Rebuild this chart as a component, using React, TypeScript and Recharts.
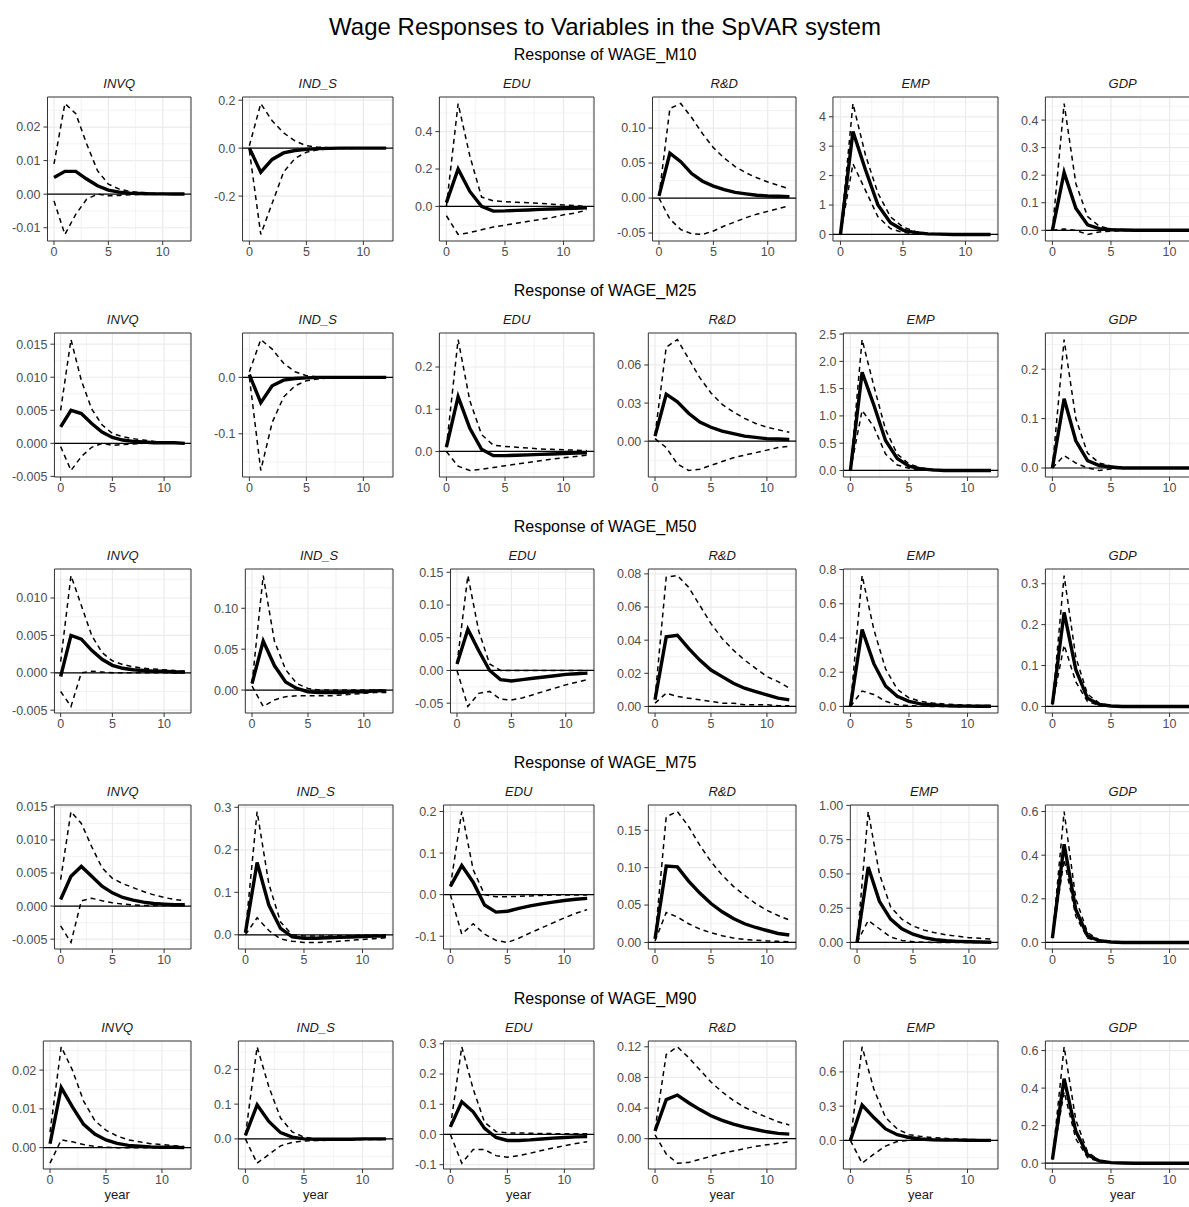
import React from "react";
import { LineChart, Line, XAxis, YAxis, CartesianGrid, ReferenceLine, ReferenceArea } from "recharts";

const YEARS = [0, 1, 2, 3, 4, 5, 6, 7, 8, 9, 10, 11, 12];
const VARIABLES = ["INVQ", "IND_S", "EDU", "R&D", "EMP", "GDP"];
const RESPONSES = ["WAGE_M10", "WAGE_M25", "WAGE_M50", "WAGE_M75", "WAGE_M90"];

type Panel = { irf: number[]; lo: number[]; hi: number[]; ticks: string[] };

// ---- WAGE_M10 ----
const M10_INVQ: Panel = {
  irf: [0.005, 0.0068, 0.0068, 0.0045, 0.0025, 0.0012, 0.0006, 0.0003, 0.0002, 0.0001, 0.0001, 0.00005, 0.00003],
  hi: [0.009, 0.027, 0.024, 0.015, 0.007, 0.003, 0.0015, 0.0008, 0.0005, 0.0003, 0.0002, 0.0001, 0.0001],
  lo: [-0.002, -0.012, -0.006, -0.0015, 0, -0.0005, -0.0004, -0.0002, -0.0001, 0, 0, 0, 0],
  ticks: ["-0.01", "0.00", "0.01", "0.02"],
};
const M10_IND_S: Panel = {
  irf: [0, -0.1, -0.047, -0.02, -0.01, -0.005, -0.002, -0.001, 0, 0, 0, 0, 0],
  hi: [0.01, 0.186, 0.114, 0.064, 0.03, 0.01, 0.004, 0.002, 0.001, 0.001, 0.0005, 0, 0],
  lo: [-0.01, -0.36, -0.23, -0.1, -0.043, -0.017, -0.007, -0.003, -0.001, -0.001, 0, 0, 0],
  ticks: ["-0.2", "0.0", "0.2"],
};
const M10_EDU: Panel = {
  irf: [0.02, 0.2, 0.08, 0, -0.025, -0.024, -0.021, -0.019, -0.016, -0.014, -0.012, -0.01, -0.008],
  hi: [0, 0.55, 0.27, 0.05, 0.03, 0.025, 0.022, 0.02, 0.016, 0.012, 0.008, 0.004, 0],
  lo: [-0.05, -0.15, -0.14, -0.125, -0.11, -0.1, -0.09, -0.08, -0.07, -0.06, -0.045, -0.035, -0.02],
  ticks: ["0.0", "0.2", "0.4"],
};
const M10_RD: Panel = {
  irf: [0.003, 0.064, 0.052, 0.035, 0.024, 0.017, 0.012, 0.008, 0.006, 0.004, 0.003, 0.0025, 0.002],
  hi: [0.003, 0.128, 0.135, 0.115, 0.092, 0.072, 0.057, 0.045, 0.036, 0.029, 0.023, 0.018, 0.013],
  lo: [0, -0.03, -0.045, -0.051, -0.052, -0.047, -0.04, -0.034, -0.028, -0.023, -0.019, -0.015, -0.011],
  ticks: ["-0.05", "0.00", "0.05", "0.10"],
};
const M10_EMP: Panel = {
  irf: [0, 3.5, 2.2, 1.0, 0.4, 0.15, 0.06, 0.02, 0.01, 0, 0, 0, 0],
  hi: [0, 4.45, 2.7, 1.4, 0.6, 0.25, 0.1, 0.04, 0.02, 0.01, 0, 0, 0],
  lo: [0, 2.4, 1.5, 0.6, 0.2, 0.07, 0.02, 0.01, 0, 0, 0, 0, 0],
  ticks: ["0", "1", "2", "3", "4"],
};
const M10_GDP: Panel = {
  irf: [0, 0.21, 0.08, 0.02, 0.006, 0.002, 0.001, 0, 0, 0, 0, 0, 0],
  hi: [0, 0.46, 0.17, 0.05, 0.015, 0.005, 0.002, 0.001, 0, 0, 0, 0, 0],
  lo: [0, 0.005, 0, -0.015, -0.006, -0.003, -0.001, 0, 0, 0, 0, 0, 0],
  ticks: ["0.0", "0.1", "0.2", "0.3", "0.4"],
};

// ---- WAGE_M25 ----
const M25_INVQ: Panel = {
  irf: [0.0025, 0.005, 0.0045, 0.003, 0.0017, 0.0009, 0.0005, 0.0003, 0.0002, 0.0001, 0.0001, 0.0001, 0],
  hi: [0.005, 0.0157, 0.0095, 0.0052, 0.0028, 0.0015, 0.001, 0.0007, 0.0005, 0.0003, 0.0002, 0.0001, 0.0001],
  lo: [-0.0005, -0.0041, -0.002, -0.0006, 0, -0.0003, -0.0002, -0.0001, 0, 0, 0, 0, 0],
  ticks: ["-0.005", "0.000", "0.005", "0.010", "0.015"],
};
const M25_IND_S: Panel = {
  irf: [0.005, -0.045, -0.015, -0.005, -0.002, -0.001, 0, 0, 0, 0, 0, 0, 0],
  hi: [0.01, 0.067, 0.05, 0.025, 0.01, 0.003, 0.001, 0, 0, 0, 0, 0, 0],
  lo: [0, -0.165, -0.08, -0.035, -0.015, -0.006, -0.003, -0.001, 0, 0, 0, 0, 0],
  ticks: ["-0.1", "0.0"],
};
const M25_EDU: Panel = {
  irf: [0.01, 0.13, 0.055, 0.005, -0.01, -0.01, -0.009, -0.008, -0.007, -0.006, -0.005, -0.004, -0.003],
  hi: [0.01, 0.265, 0.12, 0.04, 0.015, 0.012, 0.01, 0.008, 0.006, 0.005, 0.004, 0.003, 0.002],
  lo: [0, -0.035, -0.045, -0.042, -0.038, -0.034, -0.03, -0.026, -0.022, -0.018, -0.015, -0.012, -0.009],
  ticks: ["0.0", "0.1", "0.2"],
};
const M25_RD: Panel = {
  irf: [0.004, 0.037, 0.031, 0.022, 0.015, 0.011, 0.008, 0.006, 0.004, 0.003, 0.002, 0.0017, 0.0013],
  hi: [0.005, 0.074, 0.08, 0.065, 0.05, 0.038, 0.029, 0.023, 0.018, 0.014, 0.011, 0.009, 0.007],
  lo: [0.002, -0.005, -0.018, -0.023, -0.022, -0.019, -0.016, -0.013, -0.011, -0.009, -0.007, -0.005, -0.004],
  ticks: ["0.00", "0.03", "0.06"],
};
const M25_EMP: Panel = {
  irf: [0, 1.8, 1.2, 0.55, 0.22, 0.08, 0.03, 0.01, 0, 0, 0, 0, 0],
  hi: [0, 2.4, 1.55, 0.75, 0.3, 0.12, 0.05, 0.02, 0.01, 0, 0, 0, 0],
  lo: [0, 1.1, 0.8, 0.3, 0.1, 0.04, 0.01, 0, 0, 0, 0, 0, 0],
  ticks: ["0.0", "0.5", "1.0", "1.5", "2.0", "2.5"],
};
const M25_GDP: Panel = {
  irf: [0, 0.14, 0.055, 0.015, 0.005, 0.002, 0, 0, 0, 0, 0, 0, 0],
  hi: [0, 0.26, 0.1, 0.03, 0.01, 0.004, 0.001, 0, 0, 0, 0, 0, 0],
  lo: [0, 0.025, 0.01, 0, -0.005, -0.002, 0, 0, 0, 0, 0, 0, 0],
  ticks: ["0.0", "0.1", "0.2"],
};

// ---- WAGE_M50 ----
const M50_INVQ: Panel = {
  irf: [-0.0005, 0.005, 0.0045, 0.003, 0.0018, 0.001, 0.0006, 0.0004, 0.0003, 0.0002, 0.0002, 0.0001, 0.0001],
  hi: [0.0015, 0.013, 0.009, 0.005, 0.0027, 0.0016, 0.0011, 0.0008, 0.0006, 0.0005, 0.0004, 0.0003, 0.0002],
  lo: [-0.0025, -0.0045, 0, 0.0002, 0.0001, 0, 0, 0, 0, 0, 0, 0, 0],
  ticks: ["-0.005", "0.000", "0.005", "0.010"],
};
const M50_IND_S: Panel = {
  irf: [0.008, 0.06, 0.03, 0.01, 0.002, -0.002, -0.003, -0.003, -0.003, -0.002, -0.002, -0.001, -0.001],
  hi: [0.008, 0.14, 0.06, 0.025, 0.008, 0.002, 0, 0, 0, 0, 0, 0, 0],
  lo: [0.005, -0.02, -0.012, -0.008, -0.007, -0.007, -0.007, -0.007, -0.006, -0.005, -0.004, -0.003, -0.003],
  ticks: ["0.00", "0.05", "0.10"],
};
const M50_EDU: Panel = {
  irf: [0.01, 0.063, 0.03, 0, -0.014, -0.016, -0.014, -0.012, -0.01, -0.008, -0.006, -0.005, -0.004],
  hi: [0.01, 0.145, 0.06, 0.01, 0, 0, 0, 0, 0, 0, 0, 0, 0],
  lo: [0, -0.055, -0.035, -0.032, -0.044, -0.045, -0.042, -0.037, -0.032, -0.027, -0.022, -0.018, -0.014],
  ticks: ["-0.05", "0.00", "0.05", "0.10", "0.15"],
};
const M50_RD: Panel = {
  irf: [0.004, 0.042, 0.043, 0.035, 0.028, 0.022, 0.018, 0.014, 0.011, 0.009, 0.007, 0.005, 0.004],
  hi: [0.005, 0.078, 0.079, 0.072, 0.061, 0.05, 0.041, 0.034, 0.028, 0.023, 0.018, 0.015, 0.011],
  lo: [0.002, 0.008, 0.006, 0.005, 0.004, 0.003, 0.002, 0.002, 0.001, 0.001, 0.001, 0.0005, 0.0005],
  ticks: ["0.00", "0.02", "0.04", "0.06", "0.08"],
};
const M50_EMP: Panel = {
  irf: [0, 0.45, 0.25, 0.12, 0.06, 0.03, 0.015, 0.01, 0.005, 0.003, 0.002, 0.001, 0.001],
  hi: [0, 0.765, 0.45, 0.22, 0.1, 0.05, 0.03, 0.02, 0.015, 0.01, 0.008, 0.006, 0.005],
  lo: [0, 0.09, 0.07, 0.03, 0.01, 0.005, 0.002, 0, 0, 0, 0, 0, 0],
  ticks: ["0.0", "0.2", "0.4", "0.6", "0.8"],
};
const M50_GDP: Panel = {
  irf: [0.005, 0.23, 0.09, 0.02, 0.005, 0.001, 0, 0, 0, 0, 0, 0, 0],
  hi: [0.005, 0.32, 0.12, 0.03, 0.008, 0.002, 0, 0, 0, 0, 0, 0, 0],
  lo: [0.005, 0.15, 0.06, 0.012, 0.003, 0.001, 0, 0, 0, 0, 0, 0, 0],
  ticks: ["0.0", "0.1", "0.2", "0.3"],
};

// ---- WAGE_M75 ----
const M75_INVQ: Panel = {
  irf: [0.001, 0.0045, 0.006, 0.0045, 0.003, 0.002, 0.0013, 0.0009, 0.0006, 0.0004, 0.0003, 0.0002, 0.0002],
  hi: [0.004, 0.0143, 0.0125, 0.009, 0.0058, 0.0042, 0.0034, 0.0028, 0.0022, 0.0017, 0.0013, 0.001, 0.0008],
  lo: [-0.003, -0.0055, 0.0008, 0.0012, 0.0008, 0.0005, 0.0003, 0.0002, 0.0001, 0.0001, 0.0001, 0.0001, 0.0001],
  ticks: ["-0.005", "0.000", "0.005", "0.010", "0.015"],
};
const M75_IND_S: Panel = {
  irf: [0.005, 0.17, 0.07, 0.015, -0.005, -0.008, -0.008, -0.007, -0.006, -0.005, -0.004, -0.003, -0.003],
  hi: [0.005, 0.29, 0.12, 0.03, 0, -0.003, -0.003, -0.003, -0.002, -0.002, -0.001, -0.001, 0],
  lo: [0, 0.04, 0.01, -0.01, -0.015, -0.018, -0.018, -0.017, -0.015, -0.013, -0.011, -0.009, -0.007],
  ticks: ["0.0", "0.1", "0.2", "0.3"],
};
const M75_EDU: Panel = {
  irf: [0.02, 0.07, 0.03, -0.025, -0.042, -0.04, -0.033, -0.027, -0.022, -0.018, -0.014, -0.011, -0.009],
  hi: [0.02, 0.2, 0.06, 0, -0.005, -0.005, -0.004, -0.003, -0.002, -0.001, -0.001, -0.001, -0.001],
  lo: [0, -0.095, -0.07, -0.095, -0.11, -0.115, -0.105, -0.092, -0.08, -0.068, -0.056, -0.045, -0.036],
  ticks: ["-0.1", "0.0", "0.1", "0.2"],
};
const M75_RD: Panel = {
  irf: [0.005, 0.102, 0.101, 0.082, 0.066, 0.052, 0.041, 0.032, 0.025, 0.02, 0.016, 0.012, 0.01],
  hi: [0.005, 0.168, 0.175, 0.155, 0.13, 0.108, 0.09, 0.075, 0.063, 0.052, 0.043, 0.036, 0.03],
  lo: [0.002, 0.04, 0.034, 0.025, 0.018, 0.013, 0.009, 0.006, 0.004, 0.003, 0.002, 0.0015, 0.001],
  ticks: ["0.00", "0.05", "0.10", "0.15"],
};
const M75_EMP: Panel = {
  irf: [0, 0.55, 0.3, 0.17, 0.1, 0.06, 0.035, 0.02, 0.012, 0.008, 0.005, 0.003, 0.002],
  hi: [0, 0.955, 0.5, 0.26, 0.17, 0.12, 0.09, 0.07, 0.055, 0.045, 0.035, 0.03, 0.025],
  lo: [0, 0.16, 0.1, 0.04, 0.015, 0.006, 0.002, 0, 0, 0, 0, 0, 0],
  ticks: ["0.00", "0.25", "0.50", "0.75", "1.00"],
};
const M75_GDP: Panel = {
  irf: [0.02, 0.45, 0.15, 0.03, 0.008, 0.002, 0, 0, 0, 0, 0, 0, 0],
  hi: [0.02, 0.6, 0.2, 0.045, 0.012, 0.003, 0.001, 0, 0, 0, 0, 0, 0],
  lo: [0.02, 0.38, 0.12, 0.02, 0.005, 0.001, 0, 0, 0, 0, 0, 0, 0],
  ticks: ["0.0", "0.2", "0.4", "0.6"],
};

// ---- WAGE_M90 ----
const M90_INVQ: Panel = {
  irf: [0.001, 0.0155, 0.0105, 0.006, 0.0035, 0.002, 0.0011, 0.0006, 0.0004, 0.0002, 0.0001, 0.0001, 0],
  hi: [0.004, 0.026, 0.02, 0.012, 0.007, 0.0045, 0.003, 0.002, 0.0015, 0.001, 0.0008, 0.0005, 0.0003],
  lo: [-0.004, 0.002, 0.0015, 0.0008, 0.0003, 0.0001, 0, 0, 0, 0, 0, 0, 0],
  ticks: ["0.00", "0.01", "0.02"],
};
const M90_IND_S: Panel = {
  irf: [0.01, 0.098, 0.05, 0.018, 0.005, 0, -0.001, -0.001, -0.001, -0.001, 0, 0, 0],
  hi: [0.01, 0.265, 0.15, 0.06, 0.02, 0.005, 0, 0, 0, 0, 0, 0, 0],
  lo: [0, -0.07, -0.045, -0.02, -0.01, -0.006, -0.005, -0.004, -0.003, -0.003, -0.002, -0.002, -0.002],
  ticks: ["0.0", "0.1", "0.2"],
};
const M90_EDU: Panel = {
  irf: [0.025, 0.108, 0.075, 0.02, -0.01, -0.02, -0.02, -0.018, -0.015, -0.012, -0.01, -0.008, -0.007],
  hi: [0.025, 0.29, 0.15, 0.04, 0.01, 0.005, 0.005, 0.004, 0.003, 0.003, 0.002, 0.002, 0.002],
  lo: [0, -0.095, -0.05, -0.05, -0.07, -0.075, -0.07, -0.062, -0.053, -0.045, -0.037, -0.03, -0.024],
  ticks: ["-0.1", "0.0", "0.1", "0.2", "0.3"],
};
const M90_RD: Panel = {
  irf: [0.01, 0.051, 0.057, 0.047, 0.038, 0.03, 0.024, 0.019, 0.015, 0.012, 0.009, 0.007, 0.006],
  hi: [0.012, 0.11, 0.12, 0.106, 0.09, 0.074, 0.061, 0.05, 0.041, 0.034, 0.028, 0.022, 0.018],
  lo: [0.005, -0.02, -0.032, -0.031, -0.027, -0.023, -0.019, -0.016, -0.013, -0.01, -0.008, -0.006, -0.004],
  ticks: ["0.00", "0.04", "0.08", "0.12"],
};
const M90_EMP: Panel = {
  irf: [0, 0.31, 0.2, 0.1, 0.05, 0.025, 0.012, 0.006, 0.003, 0.002, 0.001, 0, 0],
  hi: [0, 0.82, 0.45, 0.2, 0.1, 0.05, 0.035, 0.025, 0.018, 0.012, 0.008, 0.005, 0.003],
  lo: [0, -0.2, -0.12, -0.05, -0.01, 0, 0, 0, 0, 0, 0, 0, 0],
  ticks: ["0.0", "0.3", "0.6"],
};
const M90_GDP: Panel = {
  irf: [0.02, 0.45, 0.17, 0.045, 0.012, 0.003, 0.001, 0, 0, 0, 0, 0, 0],
  hi: [0.02, 0.62, 0.23, 0.06, 0.015, 0.004, 0.001, 0, 0, 0, 0, 0, 0],
  lo: [0.02, 0.38, 0.13, 0.03, 0.008, 0.002, 0, 0, 0, 0, 0, 0, 0],
  ticks: ["0.0", "0.2", "0.4", "0.6"],
};

const ROWS: Panel[][] = [
  [M10_INVQ, M10_IND_S, M10_EDU, M10_RD, M10_EMP, M10_GDP],
  [M25_INVQ, M25_IND_S, M25_EDU, M25_RD, M25_EMP, M25_GDP],
  [M50_INVQ, M50_IND_S, M50_EDU, M50_RD, M50_EMP, M50_GDP],
  [M75_INVQ, M75_IND_S, M75_EDU, M75_RD, M75_EMP, M75_GDP],
  [M90_INVQ, M90_IND_S, M90_EDU, M90_RD, M90_EMP, M90_GDP],
];

const X_TICKS = [0, 5, 10];
const X_MINOR = [2.5, 7.5, 12.5];
const X_DOMAIN: [number, number] = [-0.6, 12.6];

// layout
const FONT = "'Liberation Sans', Arial, Helvetica, sans-serif";
const CELL_W = 201.7;
const ML = 12;
const MR = 11;
const MT = 10;
const ROW0 = 45;
const ROW_STEP = 236;
const PANEL_OFF = 52; // panel top below the row's subtitle top
const TICK_FS = 12.5;

const textW = (s: string) =>
  s.split("").reduce((w, c) => w + (c === "." ? 3.34 : c === "-" ? 4 : 6.67), 0) * (TICK_FS / 12);

const yDomain = (p: Panel): [number, number] => {
  const all = [...p.irf, ...p.lo, ...p.hi, 0];
  const lo = Math.min(...all);
  const hi = Math.max(...all);
  const pad = (hi - lo) * 0.05;
  return [lo - pad, hi + pad];
};

const minorBreaks = (major: number[], dom: [number, number]) => {
  if (major.length < 2) return [];
  const step = major[1] - major[0];
  const out: number[] = [];
  for (let v = major[0] - step / 2; v <= dom[1]; v += step) {
    if (v >= dom[0]) out.push(v);
  }
  return out;
};

function PanelChart({ p, last }: { p: Panel; last: boolean }) {
  const data = YEARS.map((year, i) => ({ year, irf: p.irf[i], lo: p.lo[i], hi: p.hi[i] }));
  const dom = yDomain(p);
  const tickVals = p.ticks.map(Number);
  const yW = Math.max(...p.ticks.map(textW)) + 4 + 3;
  const panelH = last ? 128 : 144;
  const xH = last ? 33 : 22;
  const yMinor = minorBreaks(tickVals, dom);
  return (
    <LineChart
      width={Math.round(CELL_W)}
      height={MT + panelH + xH}
      data={data}
      margin={{ top: MT, right: MR, bottom: 0, left: ML }}
    >
      <CartesianGrid
        stroke="#EBEBEB"
        strokeWidth={0.6}
        horizontalValues={yMinor}
        verticalValues={X_MINOR}
      />
      <CartesianGrid
        stroke="#EBEBEB"
        strokeWidth={1.2}
        horizontalValues={tickVals}
        verticalValues={X_TICKS}
      />
      <XAxis
        dataKey="year"
        type="number"
        domain={X_DOMAIN}
        ticks={X_TICKS}
        interval={0}
        allowDataOverflow
        axisLine={false}
        tickLine={{ stroke: "#333333" }}
        tickSize={4}
        tickMargin={2}
        tick={{ fill: "#4D4D4D", fontSize: TICK_FS }}
        height={xH}
        label={
          last
            ? { value: "year", position: "insideBottom", offset: 3, fill: "#1A1A1A", fontSize: 13 }
            : undefined
        }
      />
      <YAxis
        type="number"
        domain={dom}
        ticks={tickVals}
        interval={0}
        allowDataOverflow
        axisLine={false}
        tickLine={{ stroke: "#333333" }}
        tickSize={4}
        tickMargin={3}
        width={yW}
        tick={{ fill: "#4D4D4D", fontSize: TICK_FS }}
        tickFormatter={(v: number) => p.ticks[tickVals.indexOf(v)] ?? String(v)}
      />
      <ReferenceLine y={0} stroke="#000" strokeWidth={1.2} />
      <Line dataKey="hi" type="linear" stroke="#000" strokeWidth={1.5} strokeDasharray="5 4" dot={false} isAnimationActive={false} />
      <Line dataKey="lo" type="linear" stroke="#000" strokeWidth={1.5} strokeDasharray="5 4" dot={false} isAnimationActive={false} />
      <Line dataKey="irf" type="linear" stroke="#000" strokeWidth={3.4} dot={false} isAnimationActive={false} />
      <ReferenceArea x1={X_DOMAIN[0]} x2={X_DOMAIN[1]} y1={dom[0]} y2={dom[1]} fill="none" stroke="#333333" strokeWidth={1} />
    </LineChart>
  );
}

export default function App() {
  return (
    <div
      style={{
        position: "absolute",
        left: 0,
        top: 0,
        width: 1189,
        height: 1207,
        overflow: "hidden",
        background: "#fff",
        fontFamily: FONT,
        color: "#000",
      }}
    >
      <div style={{ position: "absolute", top: 11, left: 0, width: 1210, textAlign: "center", fontSize: 24, lineHeight: "32px" }}>
        Wage Responses to Variables in the SpVAR system
      </div>
      {ROWS.map((row, r) => {
        const top = ROW0 + ROW_STEP * r;
        const last = r === ROWS.length - 1;
        return (
          <div key={RESPONSES[r]}>
            <div style={{ position: "absolute", top, left: 0, width: 1210, textAlign: "center", fontSize: 16, lineHeight: "20px" }}>
              {`Response of ${RESPONSES[r]}`}
            </div>
            {row.map((p, c) => {
              const left = Math.round(CELL_W * c);
              const yW = Math.max(...p.ticks.map(textW)) + 4 + 3;
              const plotL = ML + yW;
              const plotW = Math.round(CELL_W) - MR - plotL;
              return (
                <div key={VARIABLES[c]}>
                  <div
                    style={{
                      position: "absolute",
                      top: top + 30,
                      left: left + plotL,
                      width: plotW,
                      textAlign: "center",
                      fontSize: 13,
                      fontStyle: "italic",
                      lineHeight: "18px",
                      color: "#1A1A1A",
                    }}
                  >
                    {VARIABLES[c]}
                  </div>
                  <div style={{ position: "absolute", top: top + PANEL_OFF - MT, left }}>
                    <PanelChart p={p} last={last} />
                  </div>
                </div>
              );
            })}
          </div>
        );
      })}
    </div>
  );
}
